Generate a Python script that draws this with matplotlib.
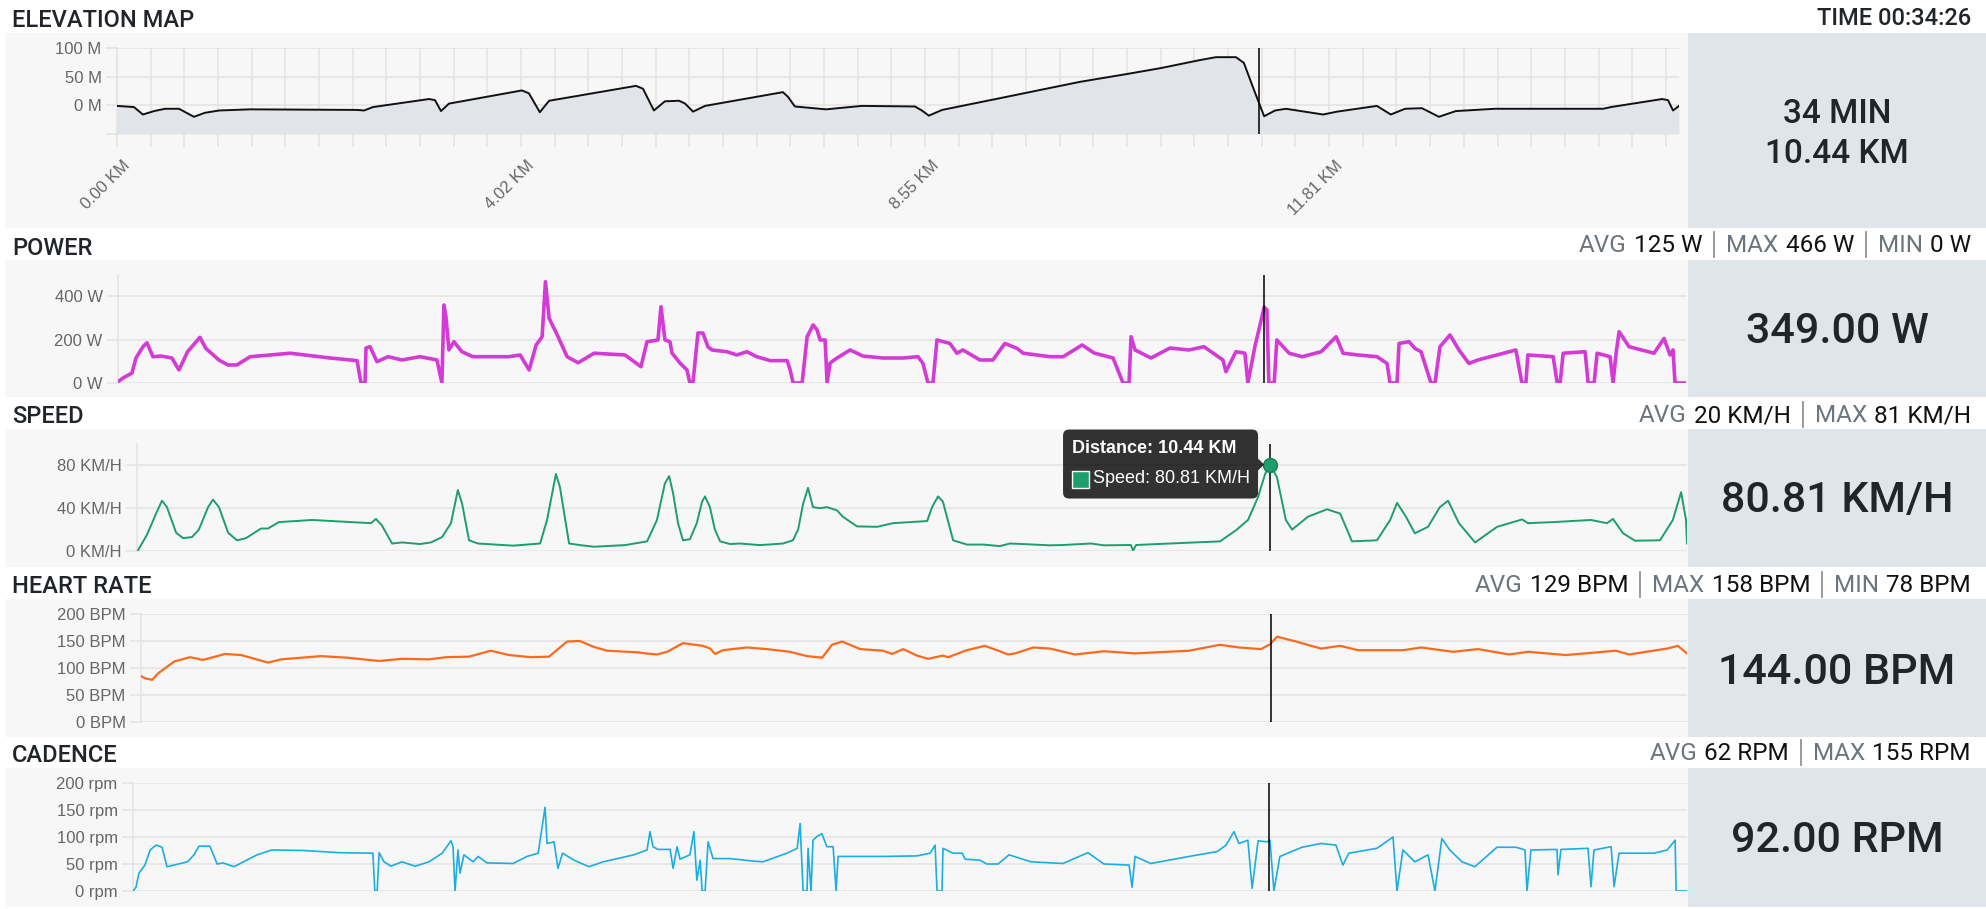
import matplotlib
matplotlib.use("Agg")
import matplotlib.pyplot as plt
from matplotlib.patches import Rectangle, FancyBboxPatch, Polygon
from matplotlib.transforms import ScaledTranslation

# ride time axis in minutes, cursor sits at 34:26
T_END = 47.1
CURSOR_T = 34.43
CURSOR_TIME = "00:34:26"
CURSOR_MIN = "34 MIN"
CURSOR_DIST = "10.44 KM"

# elevation (m)
elev_t = [0.00, 0.51, 0.78, 1.12, 1.45, 1.87, 2.32, 2.65, 3.08, 4.01, 7.24, 7.45,
          7.72, 9.41, 9.59, 9.77, 10.01, 12.21, 12.42, 12.75, 13.03, 13.84, 15.65,
          15.86, 16.19, 16.52, 16.95, 17.13, 17.37, 17.73, 20.08, 20.23, 20.44,
          21.38, 22.46, 24.06, 24.27, 24.48, 24.88, 26.50, 29.04, 30.39, 31.48,
          32.66, 33.14, 33.74, 33.98, 34.25, 34.59, 34.92, 35.25, 36.37, 36.79,
          37.99, 38.41, 38.84, 39.35, 39.86, 40.37, 41.55, 44.81, 45.05, 46.59,
          46.77, 46.92, 47.10]
elev_m = [-1, -3, -16, -10, -6, -6, -20, -13, -9, -7, -8, -9,
          -3, 11, 9, -10, 3, 26, 21, -12, 8, 16, 34,
          29, -9, 7, 8, 3, -11, -1, 23, 15, -2,
          -7, -1, -2, -9, -18, -8, 11, 41, 54, 65,
          79, 84, 84, 74, 32, -19, -9, -6, -16, -11,
          -1, -16, -6, -5, -20, -10, -6, -6, -3, 11,
          9, -9, -1]
elev_tick_labels = ["0.00 KM", "4.02 KM", "8.55 KM", "11.81 KM"]
ELEV_STEP = 1.0153     # one category gridline
ELEV_LABEL_EVERY = 12

# power (W)
power_t = [0.00, 0.15, 0.42, 0.54, 0.75, 0.87, 1.05, 1.29, 1.62, 1.83, 1.95, 2.09,
           2.46, 2.64, 3.03, 3.30, 3.57, 3.97, 5.17, 6.37, 7.18, 7.30, 7.42, 7.45,
           7.57, 7.78, 8.11, 8.53, 9.07, 9.58, 9.73, 9.79, 9.85, 9.94, 10.09, 10.33,
           10.66, 11.75, 12.08, 12.35, 12.56, 12.74, 12.84, 12.95, 13.22, 13.49,
           13.82, 14.30, 15.23, 15.71, 15.89, 16.22, 16.31, 16.43, 16.58, 16.64,
           16.88, 17.09, 17.18, 17.27, 17.42, 17.57, 17.72, 17.84, 18.29, 18.59,
           18.89, 19.19, 19.59, 20.10, 20.19, 20.28, 20.55, 20.70, 20.88, 21.00,
           21.09, 21.24, 21.30, 21.39, 21.60, 21.99, 22.38, 22.98, 23.58, 24.03,
           24.18, 24.33, 24.48, 24.60, 24.99, 25.20, 25.38, 25.89, 26.28, 26.64,
           27.01, 27.19, 28.00, 28.39, 28.96, 29.32, 29.89, 30.19, 30.37, 30.43,
           30.55, 31.03, 31.60, 32.17, 32.62, 33.19, 33.28, 33.58, 33.85, 33.94,
           34.15, 34.43, 34.51, 34.57, 34.73, 34.81, 35.18, 35.57, 36.14, 36.59,
           36.80, 37.25, 37.82, 38.12, 38.21, 38.42, 38.48, 38.78, 38.96, 39.14,
           39.44, 39.56, 39.71, 40.01, 40.28, 40.58, 40.85, 41.42, 41.99, 42.17,
           42.29, 42.35, 43.11, 43.23, 43.32, 43.41, 44.07, 44.16, 44.34, 44.43,
           44.82, 44.91, 45.00, 45.09, 45.39, 46.14, 46.44, 46.62, 46.71, 46.77,
           47.10]
power_w = [6, 23, 46, 115, 167, 185, 121, 124, 115, 60, 98, 144,
           210, 159, 106, 83, 83, 121, 137, 115, 103, 0, 0, 161,
           167, 98, 121, 106, 121, 106, 0, 359, 305, 152, 190, 144,
           121, 121, 129, 60, 175, 213, 466, 298, 213, 121,
           93, 137, 129, 75, 190, 198, 351, 198, 190, 138,
           92, 60, 0, 0, 230, 230, 167, 152, 144, 129,
           144, 121, 103, 103, 60, 0, 0, 213, 267, 244,
           198, 198, 0, 92, 115, 152, 124, 115, 115, 121,
           90, 0, 0, 198, 182, 137, 152, 106, 106, 182,
           159, 137, 121, 121, 175, 138, 115, 0, 0, 213,
           152, 115, 161, 152, 167, 106, 52, 144, 137, 0,
           167, 349, 336, 0, 0, 198, 137, 121, 144, 213,
           137, 129, 121, 90, 0, 0, 182, 190, 159, 144,
           0, 0, 167, 221, 152, 90, 106, 129, 152, 0,
           0, 129, 121, 0, 0, 137, 144, 0, 0, 137,
           121, 0, 137, 236, 167, 137, 205, 129, 152, 0,
           0]
power_stats = [("AVG", "125 W"), ("MAX", "466 W"), ("MIN", "0 W")]
power_now = 349.00

# speed (km/h)
speed_t = [0.02, 0.30, 0.58, 0.76, 0.91, 1.19, 1.40, 1.67, 1.88, 2.16, 2.31, 2.49,
           2.77, 3.04, 3.31, 3.77, 3.98, 4.31, 5.32, 7.11, 7.26, 7.44, 7.75, 8.05,
           8.60, 8.93, 9.27, 9.54, 9.75, 9.88, 10.09, 10.36, 11.43, 12.25, 12.46,
           12.73, 12.85, 13.13, 13.46, 13.89, 14.83, 15.50, 15.80, 16.04, 16.17,
           16.29, 16.44, 16.59, 16.80, 17.01, 17.17, 17.26, 17.41, 17.56, 17.72,
           18.02, 18.32, 18.93, 19.63, 19.93, 20.09, 20.24, 20.39, 20.54, 20.75,
           20.97, 21.27, 21.45, 21.88, 22.49, 22.97, 24.01, 24.16, 24.34, 24.49,
           24.80, 25.22, 25.71, 26.22, 26.53, 26.92, 27.74, 28.14, 28.99, 29.38,
           30.20, 30.27, 30.36, 31.00, 32.91, 33.40, 33.76, 34.06, 34.28, 34.43,
           34.64, 34.91, 35.10, 35.58, 36.16, 36.56, 36.92, 37.68, 38.08, 38.29,
           38.56, 38.83, 39.23, 39.59, 39.84, 40.17, 40.66, 41.33, 42.09, 42.27,
           43.03, 44.18, 44.67, 44.85, 45.16, 45.52, 46.28, 46.67, 46.92, 47.07,
           47.10]
speed_kmh = [0, 15, 35, 47, 41, 17, 12, 13, 20, 41, 48, 41,
             17, 10, 12, 21, 21, 27, 29, 26, 30, 24, 7, 8,
             6.5, 8, 13, 26, 57, 44, 10, 7, 5, 7, 29,
             72, 60, 7, 5.5, 4, 5.5, 9, 29, 63, 70,
             54, 26, 10, 11, 26, 46, 51, 41, 20, 9,
             6.5, 7, 5.5, 7, 10, 20, 44, 59, 41, 40,
             41, 38, 32, 23, 22.6, 26, 28, 41, 51, 46,
             10, 6, 6, 4.6, 7, 6.5, 5.3, 5.6, 7, 5.3,
             5.6, 0.5, 5.6, 6.5, 9, 19.5, 29, 50, 72, 80.81,
             69, 29, 20, 32, 39, 35, 9, 10, 29, 45,
             32, 16.5, 22.6, 41, 47, 26, 8, 22.6, 29.5, 26,
             27, 29, 26, 30, 16.5, 9.6, 10, 29, 55, 29,
             7]
speed_stats = [("AVG", "20 KM/H"), ("MAX", "81 KM/H")]
speed_now = 80.81

# heart rate (bpm)
hr_t = [0.00, 0.12, 0.34, 0.52, 1.01, 1.49, 1.89, 2.56, 3.05, 3.87, 4.27, 5.48,
        6.31, 7.25, 7.95, 8.77, 9.29, 9.99, 10.66, 11.21, 11.88, 12.43, 12.98,
        13.37, 13.80, 14.20, 15.14, 15.38, 15.72, 16.03, 16.51, 17.12, 17.34,
        17.49, 17.73, 18.46, 19.07, 19.77, 20.29, 20.75, 21.05, 21.36, 21.91,
        22.61, 22.88, 23.22, 23.64, 23.98, 24.43, 24.59, 25.16, 25.71, 26.08,
        26.41, 26.63, 27.18, 27.69, 28.46, 29.34, 30.28, 31.93, 32.87, 33.45,
        34.12, 34.40, 34.61, 35.19, 35.95, 36.53, 37.08, 38.45, 39.00, 39.97,
        40.73, 41.68, 42.26, 43.41, 44.94, 45.33, 46.49, 46.82, 47.10]
hr_bpm = [85, 81, 78, 90, 112, 120, 115, 126, 124, 110, 116, 122,
          119, 113, 117, 116, 120, 121, 132, 124, 120, 121, 149,
          150, 139, 132, 129, 127, 125, 130, 146, 141, 136,
          126, 133, 138, 135, 130, 122, 119, 143, 149, 135,
          132, 126, 135, 123, 117, 123, 120, 133, 141, 133,
          125, 127, 138, 136, 125, 131, 127, 132, 143, 138,
          135, 144, 158, 149, 136, 141, 133, 133, 138, 130,
          135, 125, 130, 124, 132, 125, 136, 141, 127]
hr_stats = [("AVG", "129 BPM"), ("MAX", "158 BPM"), ("MIN", "78 BPM")]
hr_now = 144.00

# cadence (rpm)
cad_t = [0.00, 0.09, 0.18, 0.36, 0.52, 0.70, 0.88, 1.03, 1.65, 1.85, 2.00, 2.33,
         2.55, 2.73, 3.06, 3.76, 4.21, 5.18, 6.24, 7.27, 7.33, 7.40, 7.46, 7.61,
         7.82, 8.15, 8.55, 8.97, 9.37, 9.64, 9.70, 9.76, 9.85, 9.91, 10.03, 10.31,
         10.46, 10.73, 11.52, 11.94, 12.28, 12.40, 12.49, 12.55, 12.76, 12.88,
         13.02, 13.37, 13.82, 14.25, 15.18, 15.58, 15.67, 15.76, 15.91, 16.28,
         16.37, 16.49, 16.58, 16.88, 17.00, 17.09, 17.19, 17.25, 17.34, 17.43,
         17.58, 18.09, 18.70, 19.09, 19.82, 20.13, 20.22, 20.31, 20.43, 20.46,
         20.55, 20.61, 20.73, 20.88, 21.03, 21.22, 21.31, 21.37, 21.73, 22.73,
         23.76, 24.16, 24.31, 24.37, 24.52, 24.55, 24.85, 25.13, 25.22, 25.67,
         25.88, 26.22, 26.55, 27.22, 28.19, 28.94, 29.43, 30.19, 30.28, 30.37,
         30.85, 32.01, 32.86, 33.13, 33.37, 33.52, 33.79, 33.92, 34.10, 34.37,
         34.46, 34.58, 34.76, 35.43, 36.01, 36.46, 36.67, 36.85, 37.70, 38.19,
         38.31, 38.49, 38.85, 39.25, 39.46, 39.67, 39.91, 40.28, 40.67, 41.34,
         41.92, 42.19, 42.25, 42.37, 43.16, 43.19, 43.28, 44.10, 44.19, 44.28,
         44.80, 44.89, 45.04, 46.10, 46.50, 46.74, 46.77, 47.10]
cad_rpm = [0, 7, 33, 48, 76, 85, 81, 45, 54, 67, 83, 83,
           50, 52, 45, 67, 76, 75, 71, 70, 0, 0, 71, 54,
           46, 54, 46, 54, 70, 93, 82, 0, 76, 33, 67, 54,
           64, 52, 51, 64, 70, 119, 155, 88, 91, 42,
           70, 57, 45, 54, 67, 76, 110, 82, 77, 77,
           42, 82, 59, 67, 110, 20, 57, 0, 0, 91,
           60, 60, 56, 54, 70, 79, 125, 0, 0, 79,
           0, 94, 101, 106, 82, 82, 0, 64, 64, 64,
           65, 70, 85, 0, 0, 79, 70, 70, 59, 57,
           50, 50, 67, 54, 51, 71, 50, 48, 7, 64,
           51, 64, 73, 85, 110, 88, 94, 5, 93, 91,
           94, 0, 64, 81, 88, 85, 48, 70, 79, 100,
           0, 76, 54, 67, 0, 97, 76, 54, 45, 81,
           81, 76, 0, 76, 77, 30, 77, 79, 8, 76,
           82, 8, 70, 70, 76, 94, 0, 0]
cad_stats = [("AVG", "62 RPM"), ("MAX", "155 RPM")]
cad_now = 92.00

# colours
PANEL = "#f7f7f7"
STATBOX = "#dfe5e8"
GRID = "#e3e3e3"
TICK = "#666666"
TITLE = "#212529"
LABEL = "#6c757d"
POWER_C = "#d43ad6"
SPEED_C = "#1d9e6c"
HR_C = "#fc6a1b"
CAD_C = "#1aaee1"
ELEV_FILL = "#e1e4e8"

W, H = 1986, 909
plt.rcParams["font.family"] = ["Liberation Sans", "DejaVu Sans"]
ROBOTO = ["Roboto", "DejaVu Sans"]
HEAD = dict(family=ROBOTO, fontsize=17.5)


def rect(x0, y0, x1, y1):
    return [x0 / W, 1 - y1 / H, (x1 - x0) / W, (y1 - y0) / H]


fig = plt.figure(figsize=(W / 100, H / 100), dpi=100, facecolor="white")
bg = fig.add_axes([0, 0, 1, 1], zorder=0)
bg.set_xlim(0, W)
bg.set_ylim(H, 0)
bg.axis("off")
top = fig.add_axes([0, 0, 1, 1], zorder=10)
top.set_xlim(0, W)
top.set_ylim(H, 0)
top.axis("off")
top.patch.set_alpha(0)

renderer = fig.canvas.get_renderer()


def width(t):
    return t.get_window_extent(renderer).width


def stat_line(y, parts, right=1971):
    x = right
    for i, (label, value) in enumerate(reversed(parts)):
        if i:
            x -= 12
            bg.plot([x, x], [y - 20, y + 5], color="#8b949b", lw=1.3)
            x -= 12
        t = bg.text(x, y, value, ha="right", va="baseline", color="#111111", **HEAD)
        x -= width(t) + 7
        t = bg.text(x, y, label, ha="right", va="baseline", color=LABEL, **HEAD)
        x -= width(t)


def panel(title, title_y, y0, y1, plot_box):
    bg.add_patch(Rectangle((5, y0), 1688 - 5, y1 - y0, color=PANEL, lw=0))
    bg.add_patch(Rectangle((1688, y0), W - 1688, y1 - y0, color=STATBOX, lw=0))
    bg.text(12, title_y, title, ha="left", va="baseline", color=TITLE,
            fontweight="medium", family=ROBOTO, fontsize=17)
    ax = fig.add_axes(rect(*plot_box), zorder=2)
    ax.patch.set_alpha(0)
    ax.set_xlim(0, T_END)
    for s in ("top", "right", "bottom"):
        ax.spines[s].set_visible(False)
    ax.spines["left"].set_color(GRID)
    ax.spines["left"].set_linewidth(1.1)
    ax.tick_params(axis="y", length=8, width=1.1, color=GRID, labelsize=12,
                   labelcolor=TICK, pad=3)
    ax.tick_params(axis="x", bottom=False, labelbottom=False)
    ax.grid(axis="y", color=GRID, linewidth=1.1)
    ax.set_axisbelow(True)
    ax.axvline(CURSOR_T, color="black", lw=1.1, zorder=6)
    return ax


def big_value(text, y, size=31):
    bg.text(1837, y, text, ha="center", va="baseline", color="#212529",
            family=ROBOTO, fontsize=size, fontweight="medium")


# elevation
ax = panel("ELEVATION MAP", 27, 33, 228, (117, 48, 1679, 134))
bg.text(1971, 25, "TIME " + CURSOR_TIME, ha="right", va="baseline", color=TITLE,
        fontweight="medium", family=ROBOTO, fontsize=17)
ax.plot(elev_t, elev_m, color="#111111", lw=1.4, zorder=4)
ax.fill_between(elev_t, elev_m, -50, color=ELEV_FILL, lw=0, zorder=3)
ax.set_ylim(-50, 100)
ax.set_yticks([-50, 0, 50, 100], ["", "0 M", "50 M", "100 M"])
n_steps = int(T_END / ELEV_STEP)
ax.set_xticks([i * ELEV_STEP for i in range(0, n_steps + 1, ELEV_LABEL_EVERY)],
              elev_tick_labels)
ax.set_xticks([i * ELEV_STEP for i in range(n_steps + 1)], minor=True)
ax.tick_params(axis="x", which="both", bottom=True, labelbottom=True, length=9,
               width=1.1, color=GRID, labelsize=12, labelcolor=TICK, pad=12)
shift = ScaledTranslation(11 / 100, 0, fig.dpi_scale_trans)
for lab in ax.get_xticklabels():
    lab.set_rotation(45)
    lab.set_ha("right")
    lab.set_va("center")
    lab.set_rotation_mode("anchor")
    lab.set_transform(lab.get_transform() + shift)
ax.grid(axis="x", which="both", color=GRID, linewidth=1.1)
big_value(CURSOR_MIN, 123, size=24)
big_value(CURSOR_DIST, 163, size=24)

# power
ax = panel("POWER", 255, 260, 397, (118, 275, 1686, 383))
ax.plot(power_t, power_w, color=POWER_C, lw=2.6, zorder=4)
ax.set_ylim(0, 497)
ax.set_yticks([0, 200, 400], ["0 W", "200 W", "400 W"])
stat_line(252, power_stats)
big_value(f"{power_now:.2f} W", 343)

# speed
ax_s = panel("SPEED", 423, 429, 567, (137, 444, 1687, 551))
ax_s.plot(speed_t, speed_kmh, color=SPEED_C, lw=1.4, zorder=4)
ax_s.plot([CURSOR_T], [speed_now], "o", ms=10, color=SPEED_C, mec="#14805a",
          mew=1, zorder=7, clip_on=False)
ax_s.set_ylim(0, 100)
ax_s.set_yticks([0, 40, 80], ["0 KM/H", "40 KM/H", "80 KM/H"])
stat_line(422, speed_stats)
big_value(f"{speed_now:.2f} KM/H", 512)

# heart rate
ax = panel("HEART RATE", 593, 599, 737, (141, 614, 1687, 722))
ax.plot(hr_t, hr_bpm, color=HR_C, lw=1.6, zorder=4)
ax.set_ylim(0, 200)
ax.set_yticks([0, 50, 100, 150, 200], ["0 BPM", "50 BPM", "100 BPM", "150 BPM", "200 BPM"])
stat_line(592, hr_stats)
big_value(f"{hr_now:.2f} BPM", 684)

# cadence
ax = panel("CADENCE", 762, 768, 907, (133, 783, 1687, 891))
ax.plot(cad_t, cad_rpm, color=CAD_C, lw=1.2, zorder=4)
ax.set_ylim(0, 200)
ax.set_yticks([0, 50, 100, 150, 200], ["0 rpm", "50 rpm", "100 rpm", "150 rpm", "200 rpm"])
stat_line(760, cad_stats)
big_value(f"{cad_now:.2f} RPM", 852)

# tooltip next to the speed point
px, py = top.transData.inverted().transform(
    ax_s.transData.transform((CURSOR_T, speed_now)))
right = px - 12
left = right - 195
y_top = py - 35
top.add_patch(FancyBboxPatch((left, y_top), 195, 69,
                             boxstyle="round,pad=0,rounding_size=6",
                             fc="black", ec="none", alpha=0.8))
top.add_patch(Polygon([(right, py - 6), (right + 6, py), (right, py + 6)],
                      closed=True, fc="black", ec="none", alpha=0.8))
top.text(left + 9, y_top + 19, "Distance: " + CURSOR_DIST, color="white",
         fontsize=13, fontweight="bold", ha="left", va="center")
top.add_patch(Rectangle((left + 9, y_top + 41), 17, 17, fc=SPEED_C, ec="white", lw=1))
top.text(left + 30, y_top + 49, f"Speed: {speed_now:.2f} KM/H", color="white",
         fontsize=13, ha="left", va="center")

fig.savefig("out.png", dpi=100, facecolor="white")
